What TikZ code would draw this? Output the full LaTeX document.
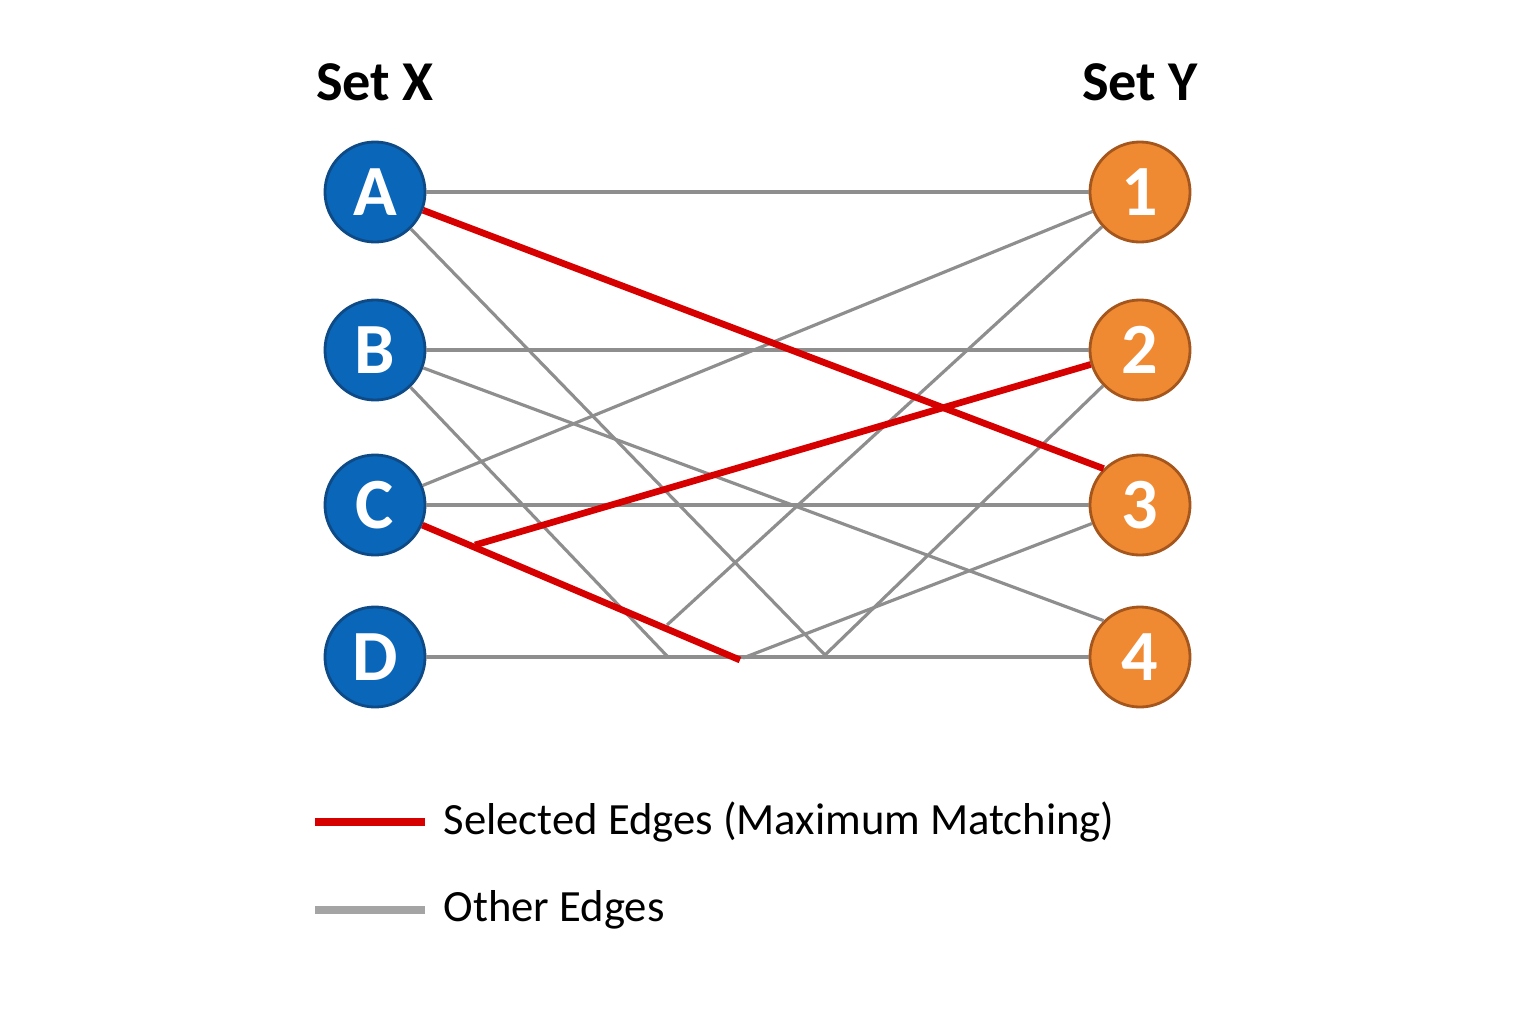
\documentclass[tikz,border=0pt]{standalone}
\usepackage{fontspec}
\setmainfont{Carlito}

\definecolor{xblue}{HTML}{0A66B8}
\definecolor{xborder}{HTML}{0D4A86}
\definecolor{yorange}{HTML}{F08A32}
\definecolor{yborder}{HTML}{A4561C}
\definecolor{matchred}{HTML}{D70000}
\definecolor{edgegray}{HTML}{8E8E8E}

\tikzset{
  xnode/.style={circle, draw=xborder, line width=0.8pt, fill=xblue,
    minimum size=1cm, inner sep=0pt, text=white,
    font=\fontsize{20.5}{20.5}\selectfont\bfseries},
  ynode/.style={xnode, draw=yborder, fill=yorange},
  heading/.style={font=\fontsize{16}{16}\selectfont\bfseries},
  other/.style={draw=edgegray, line width=0.9pt},
  selected/.style={draw=matchred, line width=1.9pt},
  legtext/.style={anchor=west, inner sep=0pt, font=\fontsize{12.7}{12.7}\selectfont}
}

\begin{document}
\begin{tikzpicture}[x=0.01cm,y=-0.01cm]
  \useasboundingbox (0,0) rectangle (1536,1024);

  % Headings
  \node[heading] (setx) at (375,82) {Set X};
  \node[heading] (sety) at (1140,82) {Set Y};

  % Vertices
  \foreach \n/\y in {A/192,B/350,C/505,D/657}
    \node[xnode] (\n) at (375,\y) {\n};
  \foreach \n/\y in {1/192,2/350,3/505,4/657}
    \node[ynode] (y\n) at (1140,\y) {\n};

  % Loose ends near the bottom row
  \coordinate (q1) at (667,625);
  \coordinate (q2) at (668,657);
  \coordinate (q3) at (743,658);
  \coordinate (q4) at (825,655);
  \coordinate (r1) at (740,660);
  \coordinate (r2) at (475,545);

  % Other edges
  \foreach \a/\b in {A/y1,B/y2,C/y3,D/y4,B/y4.north west,C/y1,A/q4,B/q2,y1/q1,y2/q4,y3/q3}
    \draw[other] (\a) -- (\b);

  % Selected edges
  \draw[selected] (A) -- (y3.north west);
  \draw[selected] (C) -- (r1);
  \draw[selected] (r2) -- (y2);

  % Legend
  \draw[matchred, line width=2.3pt] (315,822) -- (425,822);
  \node[legtext] (legsel) at (443,822) {Selected Edges (Maximum Matching)};
  \draw[edgegray!80, line width=2.3pt] (315,910) -- (425,910);
  \node[legtext] (legoth) at (443,910) {Other Edges};
\end{tikzpicture}
\end{document}
